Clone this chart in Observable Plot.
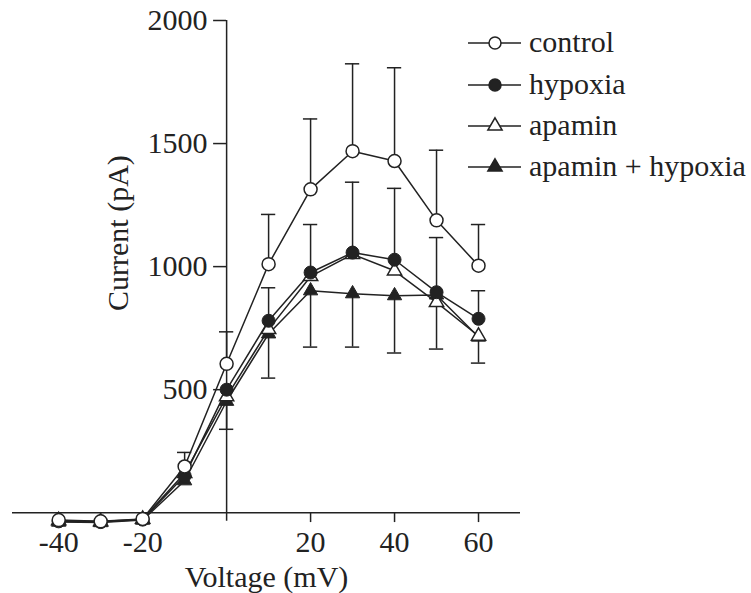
<!DOCTYPE html>
<html>
<head>
<meta charset="utf-8">
<script src="https://cdn.jsdelivr.net/npm/d3@7"></script>
<script src="https://cdn.jsdelivr.net/npm/@observablehq/plot@0.6"></script>
<style>
  html, body { margin: 0; padding: 0; background: #fff; }
  #wrap { position: relative; width: 751px; height: 593px; }
  #legend { position: absolute; left: 0; top: 0; }
</style>
</head>
<body>
<div id="wrap"></div>
<script>
// ---- data ----
const voltages = [-40, -30, -20, -10, 0, 10, 20, 30, 40, 50, 60];
const control        = [-30, -35, -25, 188, 605, 1010, 1314, 1469, 1429, 1188, 1004];
const hypoxia        = [-35, -38, -28, 150, 500, 780, 976, 1057, 1028, 896, 788];
const apamin         = [-32, -36, -26, 160, 472, 745, 960, 1050, 983, 855, 718];
const apaminHypoxia  = [-38, -40, -30, 130, 453, 727, 902, 890, 882, 885, 714];
// error bar ends (null = not drawn)
const controlUpper       = [null, null, null, 245, 735, 1212, 1600, 1824, 1808, 1473, 1171];
const hypoxiaUpper       = [null, null, null, null, null, 914, 1171, 1343, 1318, 1118, 902];
const apaminHypoxiaLower = [null, null, null, null, 339, 547, 673, 673, 649, 665, 608];
const seriesNames = ["control", "hypoxia", "apamin", "apamin + hypoxia"];
const xTicks = [-40, -20, 20, 40, 60];
const yTicks = [500, 1000, 1500, 2000];
const xLabel = "Voltage (mV)";
const yLabel = "Current (pA)";

// ---- tables ----
const seriesValues = [control, hypoxia, apamin, apaminHypoxia];
const rows = seriesNames.flatMap((s, k) => voltages.map((v, j) => ({series: s, v, i: seriesValues[k][j]})));
const rowsOf = s => rows.filter(d => d.series === s);
const errs = [];
[[control, controlUpper], [hypoxia, hypoxiaUpper], [apaminHypoxia, apaminHypoxiaLower]].forEach(([vals, ends]) => {
  voltages.forEach((v, j) => { if (ends[j] != null) errs.push({v, y: vals[j], end: ends[j]}); });
});

const ink = "#222";
const font = "'Liberation Serif', 'Times New Roman', serif";

const chart = Plot.plot({
  width: 751,
  height: 593,
  marginLeft: 12,
  marginRight: 231,
  marginTop: 20,
  marginBottom: 66,
  x: {domain: [-51, 70], axis: null},
  y: {domain: [-60, 2000], axis: null},
  style: {fontFamily: font, fontSize: "30px", background: "white", color: ink},
  marks: [
    // axes
    Plot.ruleY([0], {stroke: ink, strokeWidth: 1.5}),
    Plot.ruleX([0], {y1: -35, y2: 2000, stroke: ink, strokeWidth: 1.5}),
    Plot.ruleY(yTicks, {y: d => d, x1: -3.1, x2: 0, stroke: ink, strokeWidth: 1.5}),
    Plot.text(yTicks, {x: 0, y: d => d, text: d => String(d), textAnchor: "end", lineAnchor: "middle", dx: -19, fontSize: 30, fill: ink}),
    Plot.ruleX(xTicks, {x: d => d, y1: 0, y2: -40, stroke: ink, strokeWidth: 1.5}),
    Plot.text(xTicks, {x: d => d, y: 0, text: d => String(d), lineAnchor: "middle", dy: 30, fontSize: 30, fill: ink}),
    Plot.text([xLabel], {frameAnchor: "bottom", text: d => d, lineAnchor: "middle", dy: 50, fontSize: 30, fill: ink}),
    Plot.text([yLabel], {frameAnchor: "left", text: d => d, rotate: -90, lineAnchor: "middle", dx: 106, dy: 37, fontSize: 30, fill: ink}),
    // error bars
    Plot.ruleX(errs, {x: "v", y1: "y", y2: "end", stroke: ink, strokeWidth: 1.5}),
    Plot.ruleY(errs, {y: "end", x1: d => d.v - 1.7, x2: d => d.v + 1.7, stroke: ink, strokeWidth: 1.5}),
    // lines
    Plot.line(rows, {x: "v", y: "i", z: "series", stroke: ink, strokeWidth: 1.5}),
    // markers
    Plot.dot(rowsOf("apamin + hypoxia"), {x: "v", y: "i", symbol: "triangle", r: 5.3, fill: ink, stroke: ink, strokeWidth: 1}),
    Plot.dot(rowsOf("apamin"), {x: "v", y: "i", symbol: "triangle", r: 5.3, fill: "white", stroke: ink, strokeWidth: 1.5}),
    Plot.dot(rowsOf("hypoxia"), {x: "v", y: "i", symbol: "circle", r: 6.5, fill: ink, stroke: ink, strokeWidth: 1}),
    Plot.dot(rowsOf("control"), {x: "v", y: "i", symbol: "circle", r: 6.5, fill: "white", stroke: ink, strokeWidth: 1.5})
  ]
});
document.getElementById("wrap").appendChild(chart);

// ---- legend (overlay) ----
const legendSymbols = [
  {type: d3.symbolCircle, size: Math.PI * 36, fill: "white"},
  {type: d3.symbolCircle, size: Math.PI * 36, fill: ink},
  {type: d3.symbolTriangle, size: Math.PI * 28, fill: "white"},
  {type: d3.symbolTriangle, size: Math.PI * 28, fill: ink}
];
const rowY = [43, 85, 126, 167];
const leg = d3.select("#wrap").append("svg")
  .attr("id", "legend").attr("width", 751).attr("height", 220);
seriesNames.forEach((name, k) => {
  const g = leg.append("g").attr("transform", `translate(0,${rowY[k]})`);
  g.append("line").attr("x1", 468).attr("x2", 521).attr("y1", 0).attr("y2", 0)
    .attr("stroke", ink).attr("stroke-width", 1.5);
  g.append("path").attr("d", d3.symbol(legendSymbols[k].type, legendSymbols[k].size)())
    .attr("transform", "translate(495,0)")
    .attr("fill", legendSymbols[k].fill).attr("stroke", ink).attr("stroke-width", 1.5);
  g.append("text").attr("x", 529).attr("y", 9).text(name)
    .style("font-family", font).attr("font-size", 30).attr("fill", ink);
});
</script>
</body>
</html>
